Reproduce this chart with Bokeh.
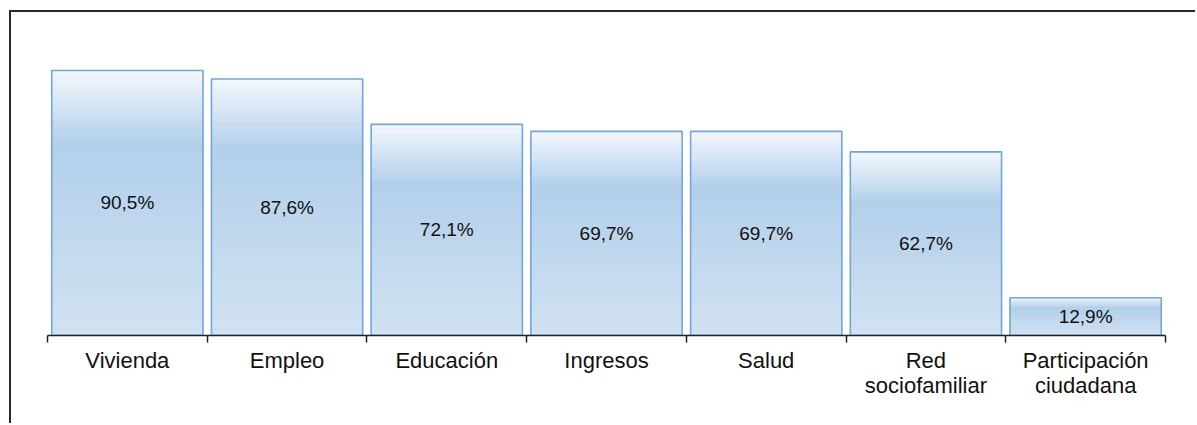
from bokeh.plotting import figure
from bokeh.models import Range1d, FixedTicker, ColumnDataSource
from bokeh.core.properties import value
from bokeh.embed import file_html
from bokeh.resources import INLINE

categories = ["Vivienda", "Empleo", "Educación", "Ingresos", "Salud",
              "Red\nsociofamiliar", "Participación\nciudadana"]
values = [90.5, 87.6, 72.1, 69.7, 69.7, 62.7, 12.9]
value_labels = [f"{v:.1f}".replace(".", ",") + "%" for v in values]

FONT = "Liberation Sans"
BAR_W = 0.947

# gradient stops (fraction from bar top, rgb)
stops = [(0.0, (245, 248, 252)), (0.28, (178, 207, 234)), (1.0, (209, 226, 242))]


def grad(t):
    for (t0, c0), (t1, c1) in zip(stops[:-1], stops[1:]):
        if t <= t1:
            f = (t - t0) / (t1 - t0)
            c = [round(a + (b - a) * f) for a, b in zip(c0, c1)]
            return "#%02x%02x%02x" % tuple(c)
    return "#%02x%02x%02x" % stops[-1][1]


p = figure(width=1186, height=413, output_backend="svg", toolbar_location=None,
           x_range=Range1d(0, len(categories)), y_range=Range1d(0, 110.3),
           y_axis_location=None, min_border_left=36, min_border_right=32,
           min_border_top=0, min_border_bottom=90)
p.grid.visible = False
p.outline_line_color = None
p.background_fill_color = "white"
p.border_fill_color = "white"
p.styles = {"border-left": "2px solid #2a2a2a", "border-top": "2px solid #2a2a2a",
            "margin-left": "9px", "margin-top": "10px"}

# gradient strips
N = 60
L, R, T, B, C = [], [], [], [], []
for i, v in enumerate(values):
    xc = i + 0.5
    for k in range(N):
        t0, t1 = k / N, (k + 1) / N
        L.append(xc - BAR_W / 2)
        R.append(xc + BAR_W / 2)
        T.append(v * (1 - t0))
        B.append(v * (1 - t1))
        C.append(grad((t0 + t1) / 2))
p.quad(left=L, right=R, top=T, bottom=B, fill_color=C, line_color=C, line_width=0.8)

xs = [i + 0.5 for i in range(len(categories))]
src = ColumnDataSource(dict(x=xs, v=values, half=[v / 2 for v in values], lab=value_labels))
p.vbar(x="x", top="v", width=BAR_W, source=src, fill_color=None,
       line_color="#72a6dc", line_width=1.6)
p.text(x="x", y="half", text="lab", source=src, text_align="center",
       text_baseline="middle", text_font=value(FONT), text_font_size="19px",
       text_color="#111111")

ax = p.xaxis[0]
ax.ticker = FixedTicker(ticks=xs, minor_ticks=list(range(len(categories) + 1)))
ax.major_label_overrides = {x: c for x, c in zip(xs, categories)}
ax.major_tick_out = 0
ax.major_tick_in = 0
ax.minor_tick_out = 7
ax.minor_tick_in = 0
ax.minor_tick_line_color = "#222222"
ax.minor_tick_line_width = 1.5
ax.axis_line_color = "#222222"
ax.axis_line_width = 1.5
ax.major_label_text_font = FONT
ax.major_label_text_font_size = "22px"
ax.major_label_text_color = "#111111"
ax.major_label_standoff = 5
ax.major_label_text_line_height = 1.0

open("out.html", "w").write(file_html(p, INLINE))
